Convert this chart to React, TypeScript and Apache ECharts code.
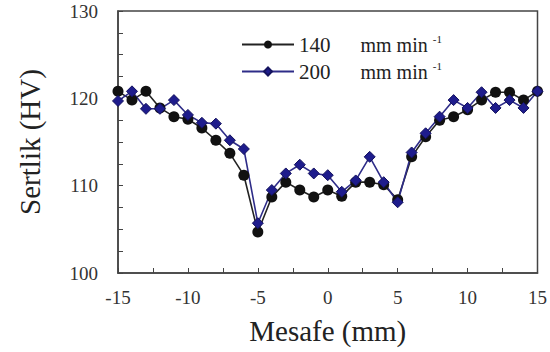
import React, { useEffect, useRef } from "react";
import * as echarts from "echarts";

const distance = [-15, -14, -13, -12, -11, -10, -9, -8, -7, -6, -5, -4, -3, -2, -1, 0, 1, 2, 3, 4, 5, 6, 7, 8, 9, 10, 11, 12, 13, 14, 15];
const hv140 = [120.8, 119.8, 120.8, 118.9, 117.9, 117.6, 116.6, 115.2, 113.7, 111.2, 104.7, 108.7, 110.4, 109.5, 108.7, 109.5, 108.8, 110.4, 110.4, 110.1, 108.4, 113.3, 115.6, 117.5, 117.9, 118.7, 119.8, 120.7, 120.7, 119.8, 120.8];
const hv200 = [119.7, 120.8, 118.8, 118.8, 119.8, 118.1, 117.2, 117.1, 115.2, 114.2, 105.7, 109.5, 111.4, 112.4, 111.4, 111.2, 109.3, 110.6, 113.3, 110.4, 108.1, 113.8, 116.0, 117.9, 119.8, 118.9, 120.7, 118.9, 119.8, 118.9, 120.8];
const seriesNames = ["140", "200"];
const unitText = "mm min";
const xAxisName = "Mesafe (mm)";
const yAxisName = "Sertlik (HV)";

const serif = "'Liberation Serif', 'Times New Roman', serif";

export default function App() {
  const ref = useRef<HTMLDivElement>(null);
  useEffect(() => {
    if (!ref.current) return;
    const chart = echarts.init(ref.current, null, { renderer: "svg" });
    const axisLine = { show: true, onZero: false, lineStyle: { color: "#444", width: 1.5 } };
    chart.setOption({
      animation: false,
      backgroundColor: "#fff",
      grid: { left: 118, right: 12, top: 11, bottom: 79, show: true, borderColor: "#444", borderWidth: 1.5 },
      legend: {
        left: 236,
        top: 28,
        orient: "vertical",
        itemWidth: 52,
        itemHeight: 10,
        itemGap: 5,
        data: seriesNames,
        formatter: (name: string) => `{n|${name}}{u|${unitText}}{s|-1}`,
        textStyle: {
          fontFamily: serif,
          color: "#222",
          rich: {
            n: { fontSize: 21, fontFamily: serif, color: "#222", lineHeight: 23 },
            u: { fontSize: 20, fontFamily: serif, color: "#222", padding: [0, 0, 0, 30] },
            s: { fontSize: 11, fontFamily: serif, color: "#222", verticalAlign: "top", padding: [0, 0, 12, 5] },
          },
        },
      },
      xAxis: {
        type: "value",
        min: -15,
        max: 15,
        interval: 2.5,
        name: xAxisName,
        nameLocation: "middle",
        nameGap: 43,
        nameTextStyle: { fontFamily: serif, fontSize: 29, color: "#222" },
        axisLine,
        axisTick: { show: true, inside: true, length: 5, lineStyle: { color: "#444" } },
        axisLabel: {
          fontFamily: serif,
          fontSize: 19,
          color: "#333",
          margin: 15,
          formatter: (v: number) => (v % 5 === 0 ? String(v) : ""),
        },
        splitLine: { show: false },
      },
      yAxis: {
        type: "value",
        min: 100,
        max: 130,
        interval: 2.5,
        name: yAxisName,
        nameLocation: "middle",
        nameGap: 74,
        nameTextStyle: { fontFamily: serif, fontSize: 29, color: "#222" },
        axisLine,
        axisTick: { show: true, inside: true, length: 5, lineStyle: { color: "#444" } },
        axisLabel: {
          fontFamily: serif,
          fontSize: 19,
          color: "#333",
          margin: 20,
          formatter: (v: number) => (v % 10 === 0 ? String(v) : ""),
        },
        splitLine: { show: false },
      },
      series: [
        {
          name: seriesNames[0],
          type: "line",
          data: distance.map((d, i) => [d, hv140[i]]),
          symbol: "circle",
          symbolSize: 11,
          clip: false,
          itemStyle: { color: "#111" },
          lineStyle: { color: "#222", width: 1.6 },
        },
        {
          name: seriesNames[1],
          type: "line",
          data: distance.map((d, i) => [d, hv200[i]]),
          symbol: "diamond",
          symbolSize: 11,
          clip: false,
          itemStyle: { color: "#1e1c8c", borderColor: "#14125e", borderWidth: 1 },
          lineStyle: { color: "#2e2c88", width: 1.6 },
        },
      ],
    });
    return () => chart.dispose();
  }, []);
  return <div ref={ref} style={{ position: "fixed", left: 0, top: 0, width: 550, height: 352 }} />;
}
